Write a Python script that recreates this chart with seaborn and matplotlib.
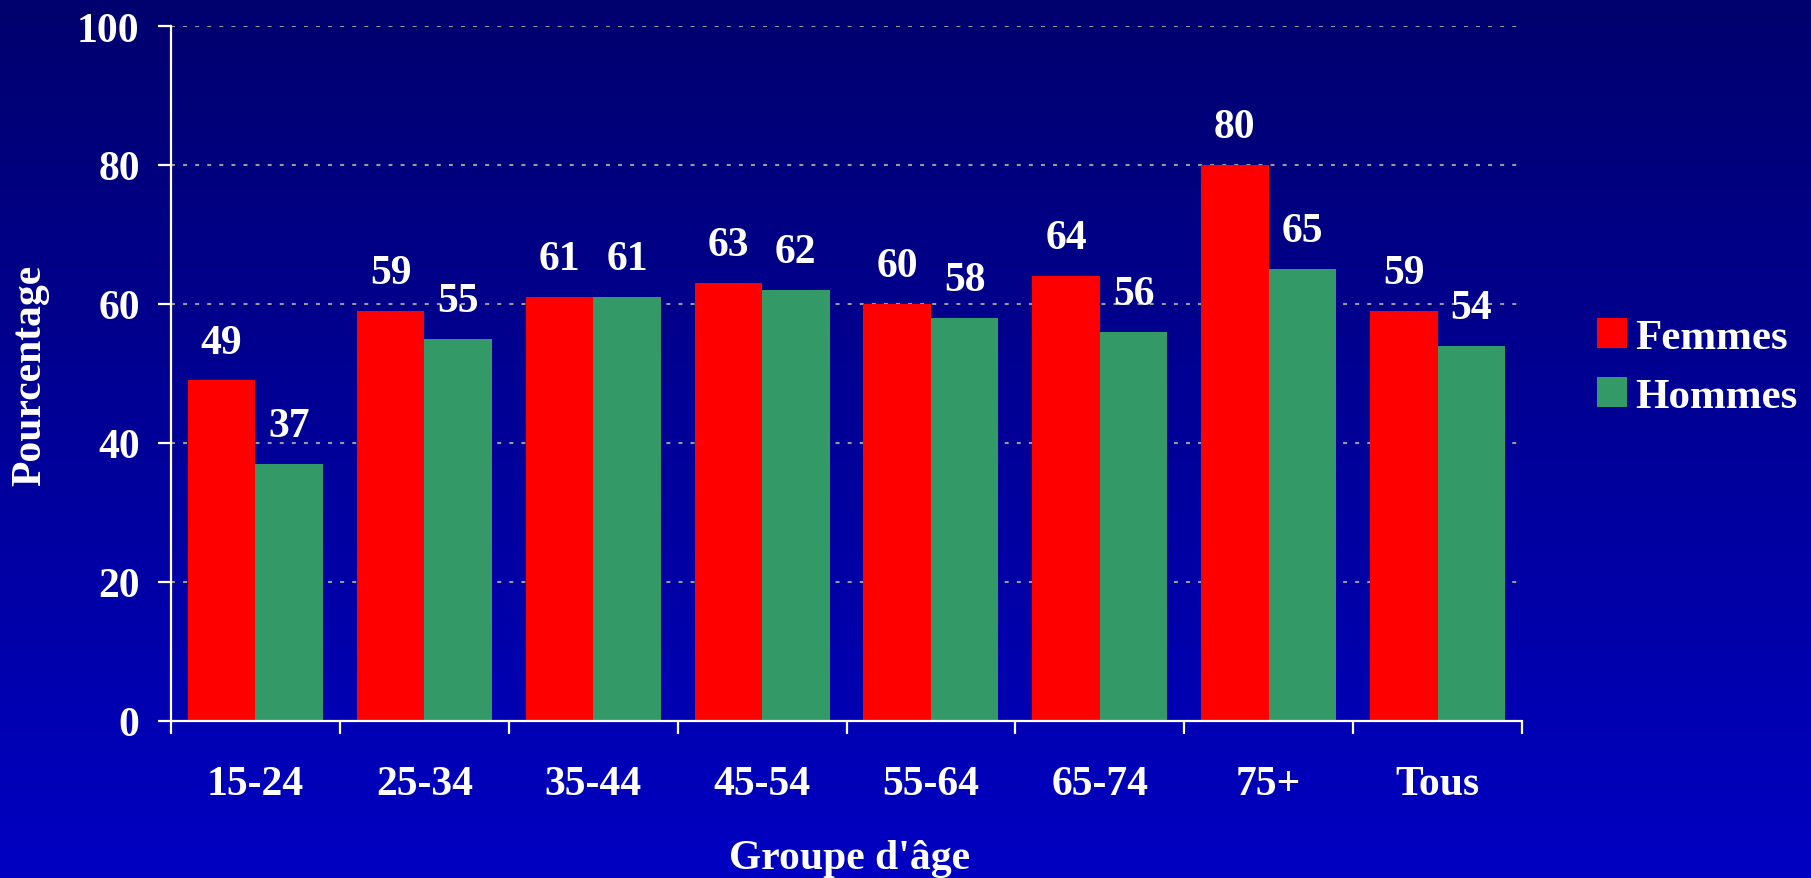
import numpy as np
import pandas as pd
import matplotlib
matplotlib.use("Agg")
import matplotlib.pyplot as plt
import seaborn as sns
from matplotlib.patches import Patch

# Data
groupes = ['15-24', '25-34', '35-44', '45-54', '55-64', '65-74', '75+', 'Tous']
femmes = [49, 59, 61, 63, 60, 64, 80, 59]
hommes = [37, 55, 61, 62, 58, 56, 65, 54]
series = ['Femmes', 'Hommes']
couleurs = ['#FF0000', '#339966']

df = pd.DataFrame({
    'groupe': groupes * 2,
    'pct': femmes + hommes,
    'sexe': [series[0]] * len(groupes) + [series[1]] * len(groupes),
})

sns.set_style("white")
plt.rcParams['font.family'] = ['Liberation Serif', 'DejaVu Serif']
plt.rcParams['font.weight'] = 'bold'
plt.rcParams['text.color'] = 'white'

W, H = 1811, 879
fig = plt.figure(figsize=(W / 100, H / 100), dpi=100)

# Gradient background (dark navy at top to brighter blue at bottom)
bg = fig.add_axes([0, 0, 1, 1], zorder=-1)
grad = np.linspace(0, 1, 256).reshape(-1, 1)
top = np.array([0, 0, 0x6E]) / 255
bot = np.array([0, 0, 0xC2]) / 255
img = top + (bot - top) * grad[..., None]
img = np.repeat(img, 2, axis=1)
bg.imshow(img, aspect='auto', extent=[0, 1, 0, 1], origin='upper')
bg.axis('off')

ax = fig.add_axes([171 / W, 1 - 722 / H, 1351 / W, 695 / H])
ax.set_facecolor('none')

sns.barplot(data=df, x='groupe', y='pct', hue='sexe', palette=couleurs,
            saturation=1, width=0.8, linewidth=0, ax=ax, legend=False, zorder=3)

for cont in ax.containers:
    ax.bar_label(cont, padding=13.5, fontsize=30, fontweight='bold', color='white')

ax.set_ylim(0, 100)
ax.set_xlim(-0.5, len(groupes) - 0.5)
ax.set_yticks([0, 20, 40, 60, 80, 100])
ax.yaxis.grid(True, color='#9A9A9A', linestyle=(0, (1.9, 3.9)), linewidth=1.5, zorder=0)
ax.xaxis.grid(False)

for s in ['top', 'right']:
    ax.spines[s].set_visible(False)
for s in ['left', 'bottom']:
    ax.spines[s].set_color('white')
    ax.spines[s].set_linewidth(1.6)
    ax.spines[s].set_zorder(5)

# tick marks sit on the group boundaries, labels at the group centres
ax.set_xticks(np.arange(-0.5, len(groupes), 1.0), minor=True)
ax.tick_params(axis='x', which='major', bottom=False, length=0, pad=32,
               labelsize=30, labelcolor='white')
ax.tick_params(axis='x', which='minor', bottom=True, length=9, width=1.6,
               color='white', direction='out')
ax.tick_params(axis='y', length=9.5, width=1.6, color='white', direction='out', pad=13,
               labelsize=30, labelcolor='white', left=True)
for lab in ax.get_xticklabels() + ax.get_yticklabels():
    lab.set_fontweight('bold')

ax.set_xlabel("Groupe d'âge", fontsize=30, fontweight='bold', color='white', va='center')
ax.xaxis.set_label_coords(0.502, -0.197)
ax.set_ylabel('Pourcentage', fontsize=30, fontweight='bold', color='white', va='center')
ax.yaxis.set_label_coords(-0.104, 0.499)

handles = [Patch(facecolor=c, edgecolor='none') for c in couleurs]
fig.legend(handles, series, loc='center left', bbox_to_anchor=(1597 / W, 1 - 368 / H),
           frameon=False, prop={'weight': 'bold', 'size': 31},
           handlelength=0.7, handleheight=0.7, handletextpad=0.2,
           labelspacing=0.47, borderpad=0, borderaxespad=0, labelcolor='white')

fig.savefig('out.png', dpi=100)
